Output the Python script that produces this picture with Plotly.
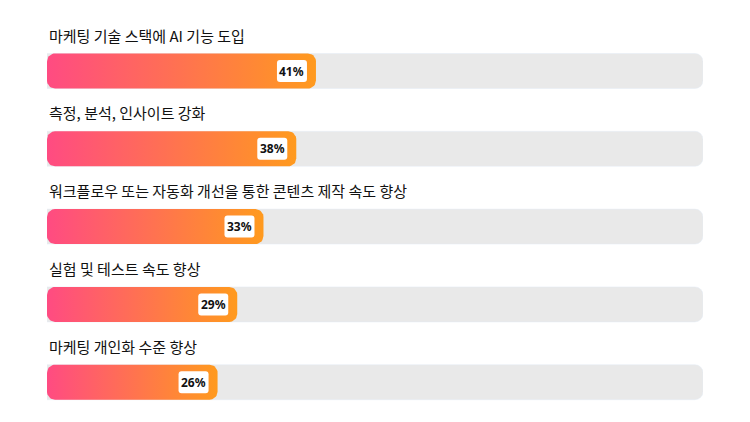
import numpy as np
import plotly.graph_objects as go

labels = [
    '마케팅 기술 스택에 AI 기능 도입',
    '측정, 분석, 인사이트 강화',
    '워크플로우 또는 자동화 개선을 통한 콘텐츠 제작 속도 향상',
    '실험 및 테스트 속도 향상',
    '마케팅 개인화 수준 향상',
]
values = [41, 38, 33, 29, 26]

# pixel -> data unit conversion (plot width 656px for 0..100, rows 77.8px apart)
PX_X = 100 / 656
PX_Y = 1 / 77.8
BAR_H = 35 * PX_Y
RADIUS = 8
OFF = 8  # page body margin


def rounded_rect(x0, x1, yc, h, r):
    rx, ry = r * PX_X, r * PX_Y
    y0, y1 = yc - h / 2, yc + h / 2
    xs, ys = [], []
    corners = [
        (x1 - rx, y0 + ry, -np.pi / 2, 0),
        (x1 - rx, y1 - ry, 0, np.pi / 2),
        (x0 + rx, y1 - ry, np.pi / 2, np.pi),
        (x0 + rx, y0 + ry, np.pi, 1.5 * np.pi),
    ]
    for cx, cy, a0, a1 in corners:
        t = np.linspace(a0, a1, 10)
        xs += list(cx + rx * np.cos(t))
        ys += list(cy + ry * np.sin(t))
    xs.append(xs[0])
    ys.append(ys[0])
    return xs, ys


# small white badge with rounded corners, in pixels relative to the bar end
BADGE = ('M -36,-11 L -12,-11 Q -9,-11 -9,-8 L -9,8 Q -9,11 -12,11 '
         'L -36,11 Q -39,11 -39,8 L -39,-8 Q -39,-11 -36,-11 Z')

fig = go.Figure()

# grey tracks
fig.add_trace(go.Bar(
    y=list(range(len(labels))), x=[100] * len(labels), orientation='h',
    width=BAR_H, marker=dict(color='#E9E9E9', cornerradius=RADIUS),
    hoverinfo='skip', showlegend=False,
))

for i, v in enumerate(values):
    xs, ys = rounded_rect(0, v, i, BAR_H, RADIUS)
    fig.add_trace(go.Scatter(
        x=xs, y=ys, mode='lines', fill='toself', line=dict(width=0),
        fillgradient=dict(type='horizontal',
                          colorscale=[[0, '#FF4B82'], [1, '#FF9A1E']]),
        hoverinfo='skip', showlegend=False,
    ))
    fig.add_shape(
        type='path', xref='x', yref='y', xsizemode='pixel', ysizemode='pixel',
        xanchor=v, yanchor=i, path=BADGE,
        fillcolor='white', line=dict(width=0), layer='above',
    )
    fig.add_annotation(
        x=v, y=i, xanchor='center', yanchor='middle', xshift=-24,
        text=f'<b>{v}%</b>', showarrow=False,
        font=dict(family='Noto Sans', size=12, color='#111111'),
    )
    fig.add_annotation(
        x=0, y=i - 36 * PX_Y, xanchor='left', yanchor='middle',
        text=labels[i], showarrow=False,
        font=dict(family='Noto Sans CJK KR', size=15, color='#111111'),
    )

fig.update_layout(
    width=750 - OFF, height=422 - OFF,
    margin=dict(l=47 - OFF, r=47, t=0, b=0),
    paper_bgcolor='white', plot_bgcolor='white',
    barmode='overlay',
    xaxis=dict(range=[0, 100], visible=False, fixedrange=True),
    yaxis=dict(range=[(422 - 71) * PX_Y, (OFF - 71) * PX_Y],
               visible=False, fixedrange=True),
)

fig.write_html('out.html')
